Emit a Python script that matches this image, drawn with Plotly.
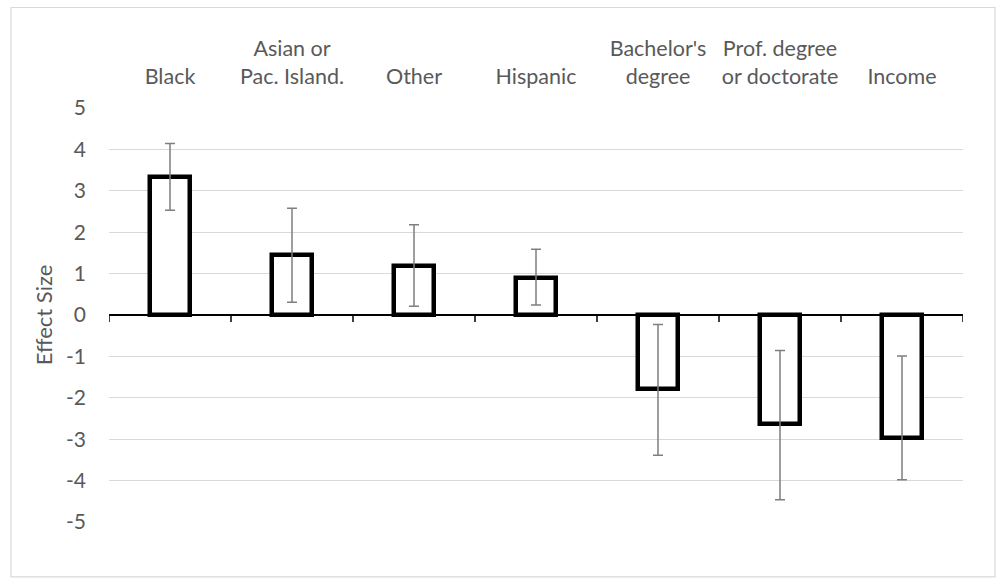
import plotly.graph_objects as go

categories = ["Black", "Asian or<br>Pac. Island.", "Other", "Hispanic",
              "Bachelor's<br>degree", "Prof. degree<br>or doctorate", "Income"]
effect = [3.33, 1.45, 1.18, 0.89, -1.79, -2.64, -2.97]
err_upper = [4.14, 2.58, 2.18, 1.59, -0.23, -0.86, -0.99]
err_lower = [2.53, 0.31, 0.21, 0.24, -3.39, -4.46, -3.98]
y_ticks = [5, 4, 3, 2, 1, 0, -1, -2, -3, -4, -5]

x_pos = list(range(len(categories)))
plus = [u - v for u, v in zip(err_upper, effect)]
minus = [v - l for v, l in zip(effect, err_lower)]

label_color = "#595959"
font_family = "Lato, Open Sans, sans-serif"

fig = go.Figure()
fig.add_trace(go.Bar(
    x=x_pos, y=effect, width=0.33,
    marker=dict(color="white", line=dict(color="black", width=4.5)),
    error_y=dict(type="data", symmetric=False, array=plus, arrayminus=minus,
                 color="#7f7f7f", thickness=1.5, width=5),
    showlegend=False, hoverinfo="y",
))

# category boundary tick marks on the zero axis
for b in [i - 0.5 for i in range(len(categories) + 1)]:
    fig.add_shape(type="line", xref="x", yref="y", x0=b, x1=b, y0=0, y1=-0.17,
                  line=dict(color="black", width=1.5), layer="above")

# chart border
fig.add_shape(type="rect", xref="paper", yref="paper",
              x0=-0.1147, x1=1.0375, y0=-0.1324, y1=1.2428,
              line=dict(color="#d9d9d9", width=1.2), fillcolor="rgba(0,0,0,0)")

fig.update_layout(
    width=1005, height=586,
    margin=dict(l=109, r=42, t=108, b=64),
    paper_bgcolor="white", plot_bgcolor="white",
    font=dict(family=font_family, size=21, color=label_color),
    bargap=0,
    xaxis=dict(
        range=[-0.5, 6.5], side="top", tickmode="array", tickvals=x_pos,
        ticktext=categories, showgrid=False, showline=False, zeroline=False,
        ticks="", ticklabelstandoff=19,
        tickfont=dict(size=21.5, color=label_color), fixedrange=True,
    ),
    yaxis=dict(
        range=[-5, 5], tickmode="array", tickvals=y_ticks,
        ticktext=[str(t) for t in y_ticks],
        showgrid=True, gridcolor="#d9d9d9", gridwidth=1.3,
        zeroline=True, zerolinecolor="black", zerolinewidth=1.8,
        showline=False, ticks="", ticklabelstandoff=22,
        tickfont=dict(size=21, color=label_color),
        title=dict(text="Effect Size", font=dict(size=22, color=label_color), standoff=7),
    ),
)

fig.write_html("out.html")
